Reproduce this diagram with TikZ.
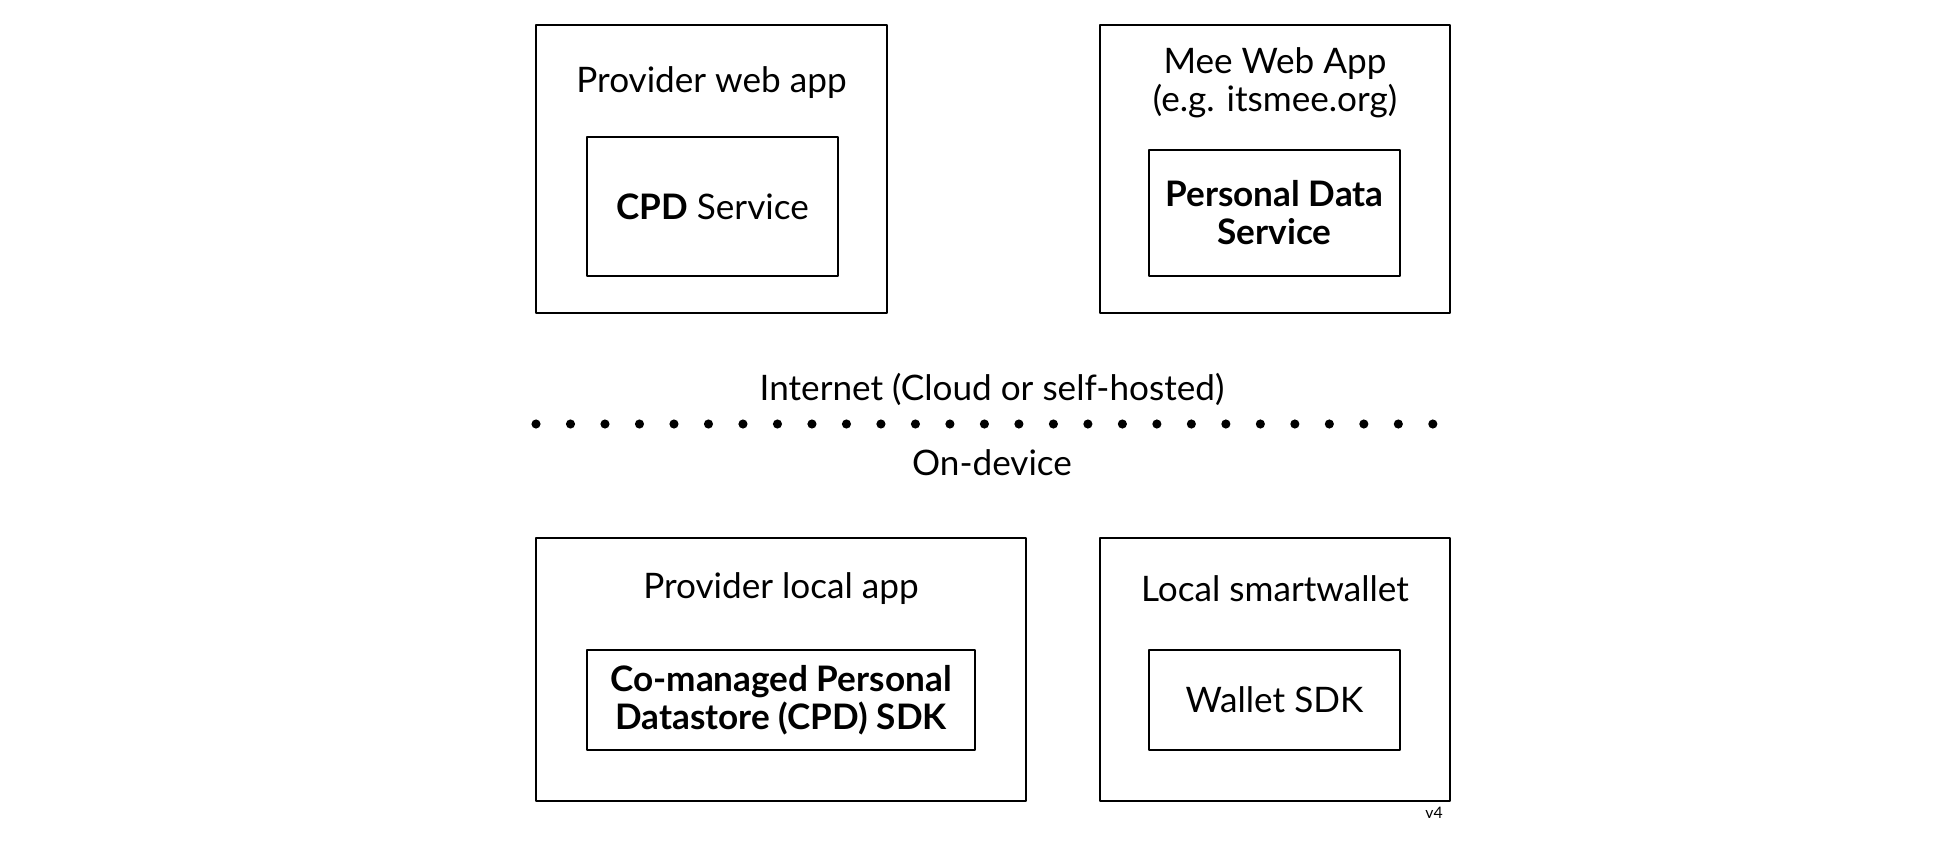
\documentclass[tikz,border=0pt]{standalone}
\usepackage{fontspec}
\setmainfont{Lato}
\usetikzlibrary{positioning}
\tikzset{
	outerbox/.style={draw, line width=1.6pt, minimum width=#1},
	innerbox/.style={draw, line width=1.6pt, minimum width=#1, align=center},
	label/.style={font=\fontsize{20}{21.7}\selectfont, align=center}
}
\begin{document}
\begin{tikzpicture}[x=0.02cm, y=-0.02cm, font=\fontsize{20}{21.7}\selectfont, line join=round]
	\useasboundingbox (0,0) rectangle (1938,849);
	% cloud side
	\node[outerbox=7.02cm, minimum height=5.76cm] (webapp) at (711.5,169) {};
	\node[label] (webtitle) at (711.5,83) {Provider web app};
	\node[innerbox=5.02cm, minimum height=2.78cm] (cpdsvc) at (712.5,206.5) {\textbf{CPD} Service};
	\node[outerbox=7.0cm, minimum height=5.76cm] (meeapp) at (1275,169) {};
	\node[label] (meetitle) at (1275,83) {Mee Web App\\(e.g. itsmee.org)};
	\node[innerbox=5.02cm, minimum height=2.52cm, font=\fontsize{20}{21.7}\selectfont\bfseries] (pds) at (1274.5,213) {Personal Data\\Service};
	% divider
	\node[label] (inet) at (992,389) {Internet (Cloud or self-hosted)};
	\coordinate (divl) at (536,424);
	\coordinate (divr) at (1434,424);
	\draw[line width=5.2pt, line cap=round, dash pattern=on 0pt off 0.69cm] (divl) -- (divr);
	\node[label] (ondev) at (992,463) {On-device};
	% device side
	\node[outerbox=9.8cm, minimum height=5.26cm] (localapp) at (781,669.5) {};
	\node[label] (localtitle) at (781,589) {Provider local app};
	\node[innerbox=7.76cm, minimum height=2.0cm, font=\fontsize{20}{21.7}\selectfont\bfseries] (cpdsdk) at (781,700) {Co-managed Personal\\Datastore (CPD) SDK};
	\node[outerbox=7.0cm, minimum height=5.26cm] (wallet) at (1275,669.5) {};
	\node[label] (wallettitle) at (1275,589) {Local smartwallet};
	\node[innerbox=5.02cm, minimum height=2.0cm] (walletsdk) at (1274.5,700) {Wallet SDK};
	\node[font=\fontsize{9}{10}\selectfont] (ver) at (1434,813) {v4};
\end{tikzpicture}
\end{document}
